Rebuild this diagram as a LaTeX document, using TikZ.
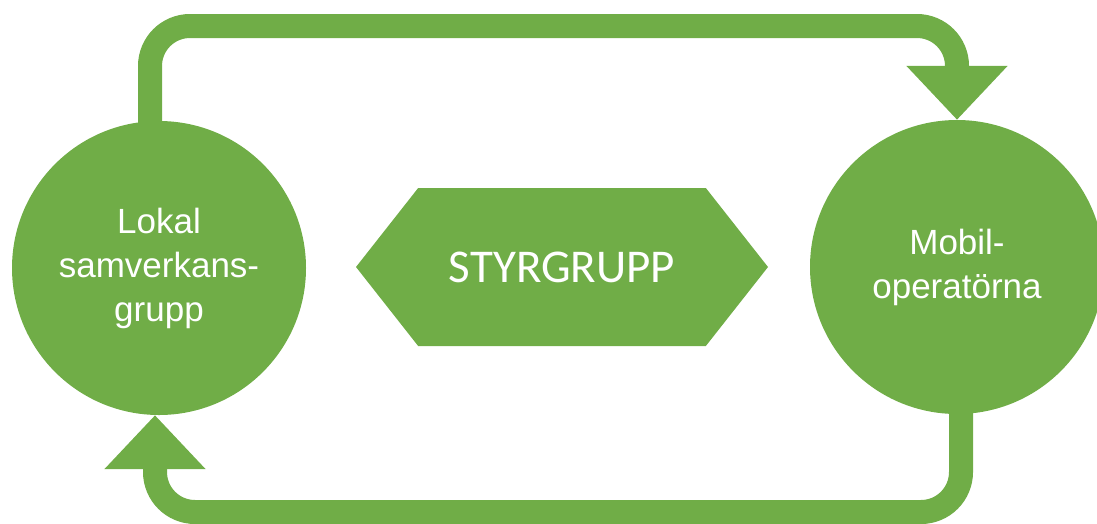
\documentclass[tikz,border=0pt]{standalone}
\usepackage{fontspec}
\setmainfont{Liberation Sans}
\newfontfamily\calfont{Carlito}
\usetikzlibrary{arrows.meta,shapes.symbols}
\definecolor{leaf}{RGB}{112,173,71}
\tikzset{
  disc/.style={circle,fill=leaf,text=white,inner sep=0pt,minimum size=294pt,
    align=center,font=\fontsize{35}{44}\selectfont},
  hexa/.style={signal,signal to=west and east,signal pointer angle=103.6,
    fill=leaf,text=white,minimum width=412pt,minimum height=158pt,
    font=\calfont\fontsize{47}{56}\selectfont},
  band/.style={draw=leaf,line width=24pt,rounded corners=40pt,
    -{Triangle[width=98pt,length=54pt]}}
}
\begin{document}
\begin{tikzpicture}[x=1pt,y=-1pt]
      \useasboundingbox (0,0) rectangle (1097,523);
      \draw
        (159,268) node[disc] (lokal){Lokal\\samverkans-\\grupp}
        (957,267) node[disc] (mobil){Mobil-\\operatörna}
        (562,267) node[hexa] (styr){STYRGRUPP};
      \coordinate (topturn) at (957,26);
      \coordinate (botturn) at (155,512);
      \begin{scope}[band]
        \draw ([xshift=-9pt,yshift=-10pt]lokal.north) |- (topturn) -- (topturn |- mobil.north);
        \draw ([xshift=4pt,yshift=10pt]mobil.south) |- (botturn) -- (botturn |- lokal.south);
      \end{scope}
    \end{tikzpicture}
\end{document}
